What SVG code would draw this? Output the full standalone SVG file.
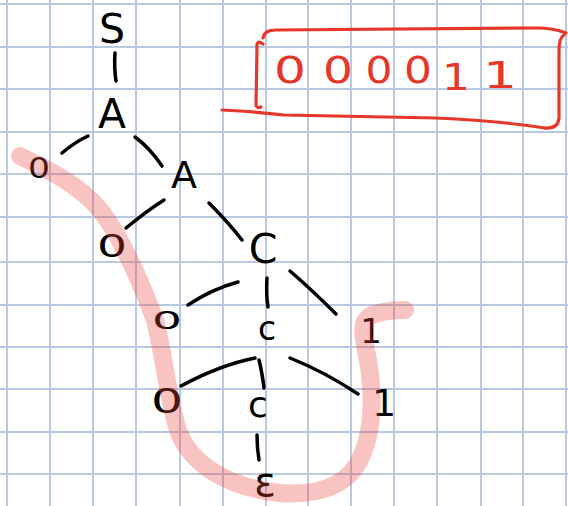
<svg xmlns="http://www.w3.org/2000/svg" width="568" height="506" viewBox="0 0 568 506">
<defs>
<style>
.grid{stroke:#bac9e2;stroke-width:2;fill:none}
.edge{stroke:#000;stroke-width:3.5;fill:none;stroke-linecap:round;stroke-linejoin:round}
.t{font-family:"DejaVu Sans","Liberation Sans",sans-serif;fill:#000;text-anchor:middle}
.red{stroke:#e5382b;stroke-width:3.2;fill:none;stroke-linecap:round;stroke-linejoin:round}
.rt{font-family:"DejaVu Sans","Liberation Sans",sans-serif;fill:#e5382b;text-anchor:middle;font-size:38px}
.hl{stroke:#e8453c;stroke-opacity:0.32;stroke-width:18;fill:none;stroke-linecap:round;stroke-linejoin:round}
</style>
</defs>
<rect width="568" height="506" fill="#fff"/>
<path class="grid" d="M7,0V506M50,0V506M93,0V506M136,0V506M180,0V506M223,0V506M266,0V506M308,0V506M351,0V506M394,0V506M437,0V506M481,0V506M523,0V506M566,0V506M0,4H568M0,47H568M0,89H568M0,132H568M0,174H568M0,217H568M0,262H568M0,305H568M0,347H568M0,389H568M0,432H568M0,474H568"/>
<g id="result-box">
<path class="red" d="M263,44 Q256,39 257,48 L256,104 Q256,109 261,107"/>
<path class="red" d="M263,38 Q264,30 276,30 L537,28 Q553,28 566,33"/>
<path class="red" d="M564,35 Q559,38 559,50 L559,118 Q558,129 545,128"/>
<path class="red" d="M222,110 Q260,112 284,115 L436,118 Q500,121 545,128"/>
<text class="rt" x="290" y="83" textLength="32" lengthAdjust="spacingAndGlyphs">0</text>
<text class="rt" x="338" y="83" textLength="30" lengthAdjust="spacingAndGlyphs">0</text>
<text class="rt" x="379" y="83" textLength="27" lengthAdjust="spacingAndGlyphs">0</text>
<text class="rt" x="418" y="83" textLength="28" lengthAdjust="spacingAndGlyphs">0</text>
<text class="rt" x="456" y="90" font-size="42" textLength="28" lengthAdjust="spacingAndGlyphs">1</text>
<text class="rt" x="500" y="88" font-size="47" textLength="34" lengthAdjust="spacingAndGlyphs">1</text>
</g>
<g id="connectors">
<path class="edge" d="M115,53 Q114,68 116,81"/>
<path class="edge" d="M62,153 Q75,142 88,136"/>
<path class="edge" d="M135,137 Q150,148 162,166"/>
<path class="edge" d="M126,228 Q148,210 164,200"/>
<path class="edge" d="M209,203 Q228,222 242,240"/>
<path class="edge" d="M188,305 Q212,289 238,282"/>
<path class="edge" d="M267,278 Q266,295 268,307"/>
<path class="edge" d="M290,271 Q312,290 336,314"/>
<path class="edge" d="M181,386 Q220,365 255,358"/>
<path class="edge" d="M259,360 Q262,372 264,388"/>
<path class="edge" d="M290,358 Q325,372 358,394"/>
<path class="edge" d="M257,435 Q257,448 259,460"/>
</g>
<g id="n-S"><text class="t" x="112" y="43" font-size="41">S</text></g>
<g id="n-A1"><text class="t" x="112" y="128" font-size="41">A</text></g>
<g id="n-0a"><text class="t" x="39" y="178" font-size="28" textLength="22" lengthAdjust="spacingAndGlyphs">0</text></g>
<g id="n-A2"><text class="t" x="184" y="188" font-size="38">A</text></g>
<g id="n-0b"><text class="t" x="112" y="257" font-size="32" textLength="30" lengthAdjust="spacingAndGlyphs">0</text></g>
<g id="n-C1"><text class="t" x="263" y="263" font-size="41">C</text></g>
<g id="n-0c"><text class="t" x="167" y="329" font-size="25" textLength="30" lengthAdjust="spacingAndGlyphs">0</text></g>
<g id="n-C2"><text class="t" x="267" y="340" font-size="33">c</text></g>
<g id="n-1a"><text class="t" x="371" y="343" font-size="34">1</text></g>
<g id="n-0d"><text class="t" x="167" y="413" font-size="33" textLength="32" lengthAdjust="spacingAndGlyphs">0</text></g>
<g id="n-C3"><text class="t" x="258" y="417" font-size="36">c</text></g>
<g id="n-1b"><text class="t" x="384" y="416" font-size="38">1</text></g>
<g id="n-eps"><text class="t" x="265" y="496" font-size="40">ε</text></g>
<g id="highlight">
<path class="hl" d="M20,156 C45,168 80,185 100,210 C120,235 140,280 155,320 C165,360 168,400 178,430 C190,465 230,488 280,493 C320,496 350,485 362,455 C375,425 372,385 368,360 C364,340 358,322 372,315 C385,310 400,310 405,310"/>
</g>
</svg>
